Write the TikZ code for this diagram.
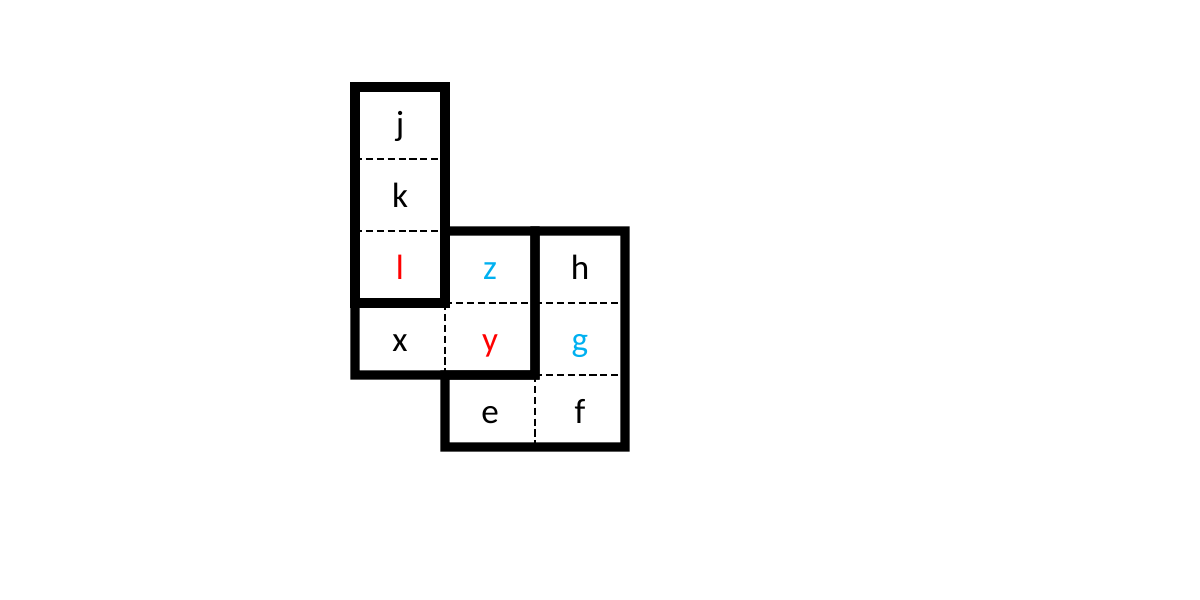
\documentclass[tikz,border=0pt]{standalone}
\usepackage{fontspec}
\setmainfont{Carlito}
\definecolor{cellred}{HTML}{FF0000}
\definecolor{cellblue}{HTML}{00B0F0}
\begin{document}
\begin{tikzpicture}[
    cell/.style={rectangle, minimum width=0.9cm, minimum height=0.72cm, inner sep=0pt, outer sep=0pt,
                 text height=7.6pt, text depth=0.6pt, font=\fontsize{10pt}{11pt}\selectfont},
    thickline/.style={line width=2.7pt, line join=miter},
    dashline/.style={line width=0.75pt, dash pattern=on 2pt off 1.1pt}
  ]
  \useasboundingbox (0,0) rectangle (12,6);
  \begin{scope}[shift={(3.55,1.53)}, x=0.9cm, y=0.72cm]
    % Cells
    \node[cell] (j) at (0.5,4.5) {j};
    \node[cell] (k) at (0.5,3.5) {k};
    \node[cell, text=cellred] (l) at (0.5,2.5) {l};
    \node[cell] (x) at (0.5,1.5) {x};
    \node[cell, text=cellblue] (z) at (1.5,2.5) {z};
    \node[cell, text=cellred] (y) at (1.5,1.5) {y};
    \node[cell] (e) at (1.5,0.5) {e};
    \node[cell] (h) at (2.5,2.5) {h};
    \node[cell, text=cellblue] (g) at (2.5,1.5) {g};
    \node[cell] (f) at (2.5,0.5) {f};

    % Dashed inner lines
    \draw[dashline] (j.south west) -- (j.south east);
    \draw[dashline] (k.south west) -- (k.south east);
    \draw[dashline] (z.south west) -- (z.south east);
    \draw[dashline] (x.north east) -- (x.south east);
    \draw[dashline] (h.south west) -- (h.south east);
    \draw[dashline] (g.south west) -- (g.south east);
    \draw[dashline] (e.north east) -- (e.south east);

    % Thick outlines
    \draw[thickline] (j.north west) -- (j.north east) -- (l.south east) -- (l.south west) -- cycle;
    \draw[thickline] (z.north west) -- (z.north east) -- (y.south east) -- (x.south west) -- (x.north west) -- (l.south east) -- cycle;
    \draw[thickline] (h.north west) -- (h.north east) -- (f.south east) -- (e.south west) -- (e.north west) -- (g.south west) -- cycle;
  \end{scope}
\end{tikzpicture}
\end{document}
